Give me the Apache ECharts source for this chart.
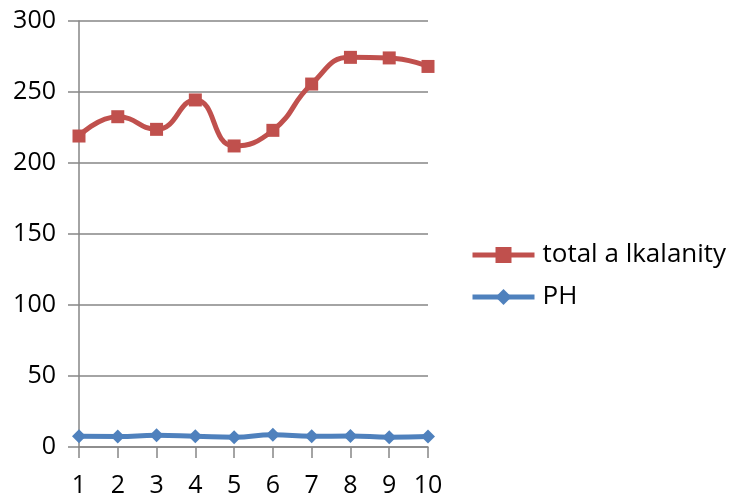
<!DOCTYPE html>
<html><head><meta charset="utf-8">
<script src="https://cdn.jsdelivr.net/npm/echarts@6/dist/echarts.min.js"></script>
<style>html,body{margin:0;padding:0;background:#fff}#c{width:731px;height:495px}</style>
</head><body><div id="c"></div>
<script>
var categories = ['1','2','3','4','5','6','7','8','9','10'];
var alkalinity = [219, 232.6, 223.7, 244.4, 212, 223, 255.6, 274.4, 274, 268];
var ph = [7.5, 7.4, 8.2, 7.6, 6.9, 8.6, 7.5, 7.8, 6.9, 7.4];
var seriesNames = ['total a lkalanity', 'PH'];

var chart = echarts.init(document.getElementById('c'));
var font = 'Open Sans';
chart.setOption({
  animation: false,
  grid: {left: 79, right: 303, top: 21, bottom: 48, containLabel: false, outerBoundsMode: 'none'},
  legend: {
    orient: 'vertical', left: 470, top: 242, itemGap: 16, padding: 0,
    itemWidth: 62, itemHeight: 20,
    lineStyle: {width: 5},
    textStyle: {fontFamily: font, fontSize: 26, color: '#000', padding: [0,0,0,3]},
    data: seriesNames
  },
  xAxis: {
    type: 'category', data: categories, boundaryGap: false,
    axisLine: {lineStyle: {color: '#868686', width: 1.5}},
    axisTick: {show: true, length: 11, alignWithLabel: true, lineStyle: {color: '#868686', width: 1.5}},
    axisLabel: {fontFamily: font, fontSize: 25, color: '#000', margin: 26}
  },
  yAxis: {
    type: 'value', min: 0, max: 300, interval: 50,
    axisLine: {show: true, lineStyle: {color: '#868686', width: 1.5}},
    axisTick: {show: true, length: 11, lineStyle: {color: '#868686', width: 1.5}},
    splitLine: {lineStyle: {color: '#868686', width: 1.5}},
    axisLabel: {fontFamily: font, fontSize: 25, color: '#000', margin: 23}
  },
  series: [
    {name: seriesNames[0], type: 'line', data: alkalinity, smooth: 0.5,
     symbol: 'rect', symbolSize: 13,
     itemStyle: {color: '#C0504D'}, lineStyle: {color: '#C0504D', width: 5}},
    {name: seriesNames[1], type: 'line', data: ph, smooth: 0.5,
     symbol: 'diamond', symbolSize: 14,
     itemStyle: {color: '#4F81BD'}, lineStyle: {color: '#4F81BD', width: 5}}
  ]
});
</script></body></html>
